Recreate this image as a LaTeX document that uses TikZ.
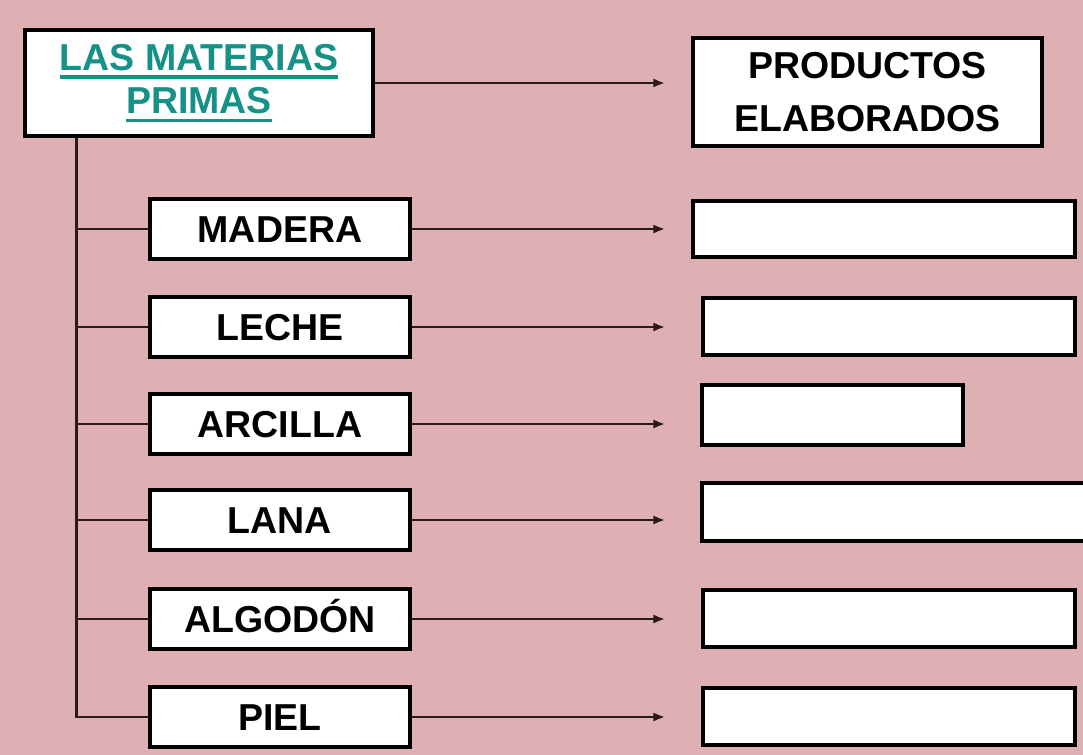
\documentclass[tikz,border=0pt]{standalone}
\usepackage{fontspec}
\setmainfont{Liberation Sans}
\usetikzlibrary{arrows.meta}
\definecolor{fondo}{RGB}{222,176,180}
\definecolor{verdeazul}{RGB}{22,145,135}
\definecolor{linea}{RGB}{45,25,25}
\newcommand{\subraya}[1]{\setbox0\hbox{#1}\rlap{\color{verdeazul}\rule[-7pt]{\wd0}{2.6pt}}\box0}

\begin{document}
\begin{tikzpicture}[x=0.03cm,y=-0.03cm,
  caja/.style={draw=black,line width=2.8pt,fill=white,inner sep=0pt,font=\fontsize{32}{38}\selectfont\bfseries},
  materia/.style={caja,minimum width=7.8cm,minimum height=1.8cm,text height=23pt,text depth=0pt},
  producto/.style={caja,minimum width=11.16cm,minimum height=1.71cm},
  rama/.style={draw=linea,line width=2.5pt},
  flecha/.style={rama,-{Latex[length=10pt,width=8pt]}}]
\useasboundingbox (0,0) rectangle (1083,755);
\fill[fondo] (0,0) rectangle (1083,755);
\node[caja,minimum width=10.44cm,minimum height=3.18cm,align=center,text=verdeazul,font=\fontsize{32}{37}\selectfont\bfseries] (materias) at (199,83) {\subraya{LAS MATERIAS}\\\subraya{PRIMAS}};
\node[caja,minimum width=10.47cm,minimum height=3.24cm,align=center,font=\fontsize{32}{45}\selectfont\bfseries] (productos) at (867.5,92) {PRODUCTOS\\ELABORADOS};
\node[materia] (madera) at (280,229) {MADERA};
\node[materia] (leche) at (280,327) {LECHE};
\node[materia] (arcilla) at (280,424) {ARCILLA};
\node[materia] (lana) at (280,520) {LANA};
\node[materia] (algodon) at (280,619) {ALGODÓN};
\node[materia] (piel) at (280,717) {PIEL};
\node[producto,minimum width=11.46cm,minimum height=1.68cm] (vacio1) at (884,229) {};
\node[producto] (vacio2) at (889,326.5) {};
\node[producto,minimum width=7.83cm,minimum height=1.8cm] (vacio3) at (832.5,415) {};
\node[producto,minimum width=11.64cm,minimum height=1.74cm] (vacio4) at (896,512) {};
\node[producto] (vacio5) at (889,618.5) {};
\node[producto] (vacio6) at (889,716.5) {};
\coordinate (tronco) at ([xshift=1.59cm]materias.south west);
\coordinate (punta) at (665,83);
\draw[rama] (tronco) |- (piel.west);
\draw[rama] (tronco |- madera.west) -- (madera.west);
\draw[rama] (tronco |- leche.west) -- (leche.west);
\draw[rama] (tronco |- arcilla.west) -- (arcilla.west);
\draw[rama] (tronco |- lana.west) -- (lana.west);
\draw[rama] (tronco |- algodon.west) -- (algodon.west);
\draw[flecha] (materias.east) -- (punta);
\draw[flecha] (madera.east) -- (madera.east -| punta);
\draw[flecha] (leche.east) -- (leche.east -| punta);
\draw[flecha] (arcilla.east) -- (arcilla.east -| punta);
\draw[flecha] (lana.east) -- (lana.east -| punta);
\draw[flecha] (algodon.east) -- (algodon.east -| punta);
\draw[flecha] (piel.east) -- (piel.east -| punta);
\end{tikzpicture}
\end{document}
